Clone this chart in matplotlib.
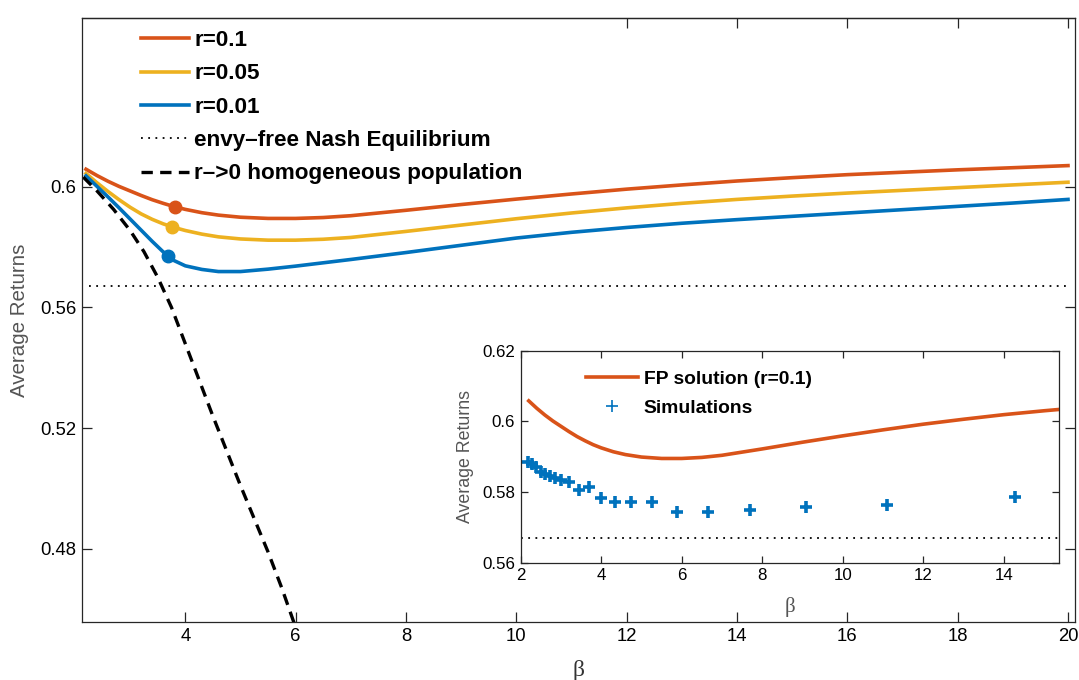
import matplotlib
matplotlib.use("Agg")
import matplotlib.pyplot as plt
from matplotlib.lines import Line2D

# ---- data -------------------------------------------------------------
beta = [2.2, 2.4, 2.6, 2.8, 3.0, 3.2, 3.4, 3.6, 3.8, 4.0, 4.3, 4.6, 5.0,
        5.5, 6.0, 6.5, 7.0, 8.0, 9.0, 10.0, 11.0, 12.0, 13.0, 14.0, 15.0,
        16.0, 17.0, 18.0, 19.0, 20.0]
ret_r01 = [0.6058, 0.6037, 0.6018, 0.6001, 0.5986, 0.5971, 0.5957, 0.5945,
           0.5934, 0.5925, 0.5914, 0.5906, 0.5899, 0.5895, 0.5895, 0.5898,
           0.5904, 0.5922, 0.5941, 0.5959, 0.5976, 0.5992, 0.6006, 0.6019,
           0.6030, 0.6040, 0.6048, 0.6056, 0.6063, 0.6070]
ret_r005 = [0.6044, 0.6013, 0.5984, 0.5957, 0.5932, 0.5910, 0.5892, 0.5877,
            0.5865, 0.5855, 0.5843, 0.5834, 0.5827, 0.5823, 0.5823, 0.5826,
            0.5832, 0.5852, 0.5873, 0.5894, 0.5913, 0.5930, 0.5945, 0.5958,
            0.5969, 0.5979, 0.5988, 0.5997, 0.6006, 0.6015]
ret_r001 = [0.6036, 0.6001, 0.5966, 0.5930, 0.5893, 0.5856, 0.5819, 0.5784,
            0.5755, 0.5738, 0.5726, 0.5719, 0.5719, 0.5727, 0.5737, 0.5748,
            0.5759, 0.5782, 0.5806, 0.5830, 0.5849, 0.5865, 0.5879, 0.5891,
            0.5902, 0.5913, 0.5924, 0.5935, 0.5946, 0.5958]

# highlighted operating points on each curve
beta_mark = [3.81, 3.75, 3.68]
ret_mark = [0.5933, 0.5868, 0.5772]

# r -> 0 limit for a homogeneous population
beta_homog = [2.15, 2.4, 2.7, 3.0, 3.25, 3.5, 3.75, 4.0, 4.25, 4.5, 4.75,
              5.0, 5.25, 5.5, 5.75, 6.0]
ret_homog = [0.6032, 0.5986, 0.5925, 0.5855, 0.5785, 0.5700, 0.5600, 0.5480,
             0.5360, 0.5240, 0.5125, 0.5010, 0.4900, 0.4790, 0.4670, 0.4540]

nash_level = 0.567

# agent-based simulations, r = 0.1
beta_sim = [2.19, 2.28, 2.38, 2.51, 2.61, 2.73, 2.86, 2.99, 3.21, 3.44, 3.70,
            4.00, 4.35, 4.75, 5.25, 5.87, 6.66, 7.69, 9.08, 11.10, 14.28]
ret_sim = [0.5885, 0.5878, 0.5870, 0.5858, 0.5850, 0.5846, 0.5841, 0.5834,
           0.5827, 0.5806, 0.5814, 0.5782, 0.5771, 0.5772, 0.5772, 0.5744,
           0.5744, 0.5749, 0.5759, 0.5764, 0.5787]

main_xticks = [4, 6, 8, 10, 12, 14, 16, 18, 20]
main_yticks = [0.48, 0.52, 0.56, 0.6]
inset_xticks = [2, 4, 6, 8, 10, 12, 14]
inset_yticks = [0.56, 0.58, 0.6, 0.62]

# ---- style ------------------------------------------------------------
C_ORANGE = "#D95319"
C_YELLOW = "#EDB120"
C_BLUE = "#0072BD"
C_AXIS = "#262626"
SANS = ["Liberation Sans", "DejaVu Sans"]
SERIF = ["Liberation Serif", "DejaVu Serif"]

plt.rcParams["font.family"] = SANS
plt.rcParams["axes.linewidth"] = 0.9

W, H = 1079, 680
fig = plt.figure(figsize=(W / 100, H / 100), dpi=100)


def px_rect(left, top, right, bottom):
    return [left / W, 1 - bottom / H, (right - left) / W, (bottom - top) / H]


def style_axes(a, size):
    for s in a.spines.values():
        s.set_color(C_AXIS)
    a.tick_params(direction="in", length=7, width=0.9, colors=C_AXIS,
                  labelcolor="black", labelsize=size, pad=4)


# ---- main axes --------------------------------------------------------
ax = fig.add_axes(px_rect(81.7, 17.7, 1075, 622))
ax.set_xlim(2.122, 20.127)
ax.set_ylim(0.4558, 0.656)

l1, = ax.plot(beta, ret_r01, color=C_ORANGE, lw=2.6, label="r=0.1")
l2, = ax.plot(beta, ret_r005, color=C_YELLOW, lw=2.6, label="r=0.05")
l3, = ax.plot(beta, ret_r001, color=C_BLUE, lw=2.6, label="r=0.01")
for bx, ry, c in zip(beta_mark, ret_mark, [C_ORANGE, C_YELLOW, C_BLUE]):
    ax.plot([bx], [ry], "o", color=c, ms=9, zorder=4)
l4, = ax.plot([2.25, 20.0], [nash_level, nash_level], color="black", lw=1.3,
              ls=(0, (1, 3.0)), label="envy\u2013free Nash Equilibrium")
l5, = ax.plot(beta_homog, ret_homog, color="black", lw=2.4, ls=(0, (3.4, 2.2)),
              label="r\u2013>0 homogeneous population")

ax.set_xticks(main_xticks)
ax.set_xticklabels([f"{v:g}" for v in main_xticks])
ax.set_yticks(main_yticks)
ax.set_yticklabels([f"{v:g}" for v in main_yticks])
style_axes(ax, 13.3)
ax.tick_params(right=True, top=False)

# top ticks only where the legend does not sit
top = ax.secondary_xaxis("top")
top.set_xticks([12, 14, 16, 18, 20])
top.tick_params(direction="in", length=7, width=0.9, colors=C_AXIS,
                labeltop=False)
top.spines["top"].set_color(C_AXIS)

ax.set_ylabel("Average Returns", fontsize=14.8, color="#555555", labelpad=8)
ax.set_xlabel("\u03b2", fontsize=17, family=SERIF, color="#333333",
              labelpad=11)

leg = ax.legend(handles=[l1, l2, l3, l4, l5], loc="upper left",
                bbox_to_anchor=(141 / W, 1 - 30 / H),
                bbox_transform=fig.transFigure, frameon=False,
                prop={"family": SANS, "weight": "bold", "size": 16.2},
                handlelength=2.15, handletextpad=0.22, labelspacing=0.55,
                borderpad=0, borderaxespad=0)

# ---- inset ------------------------------------------------------------
ins = fig.add_axes(px_rect(520.7, 350.7, 1059, 562.7))
ins.set_xlim(2, 15.37)
ins.set_ylim(0.56, 0.62)
f1, = ins.plot(beta, ret_r01, color=C_ORANGE, lw=2.6,
               label="FP solution (r=0.1)")
ins.plot(beta_sim, ret_sim, "+", color=C_BLUE, ms=9, mew=2.6)
f2 = Line2D([], [], ls="none", marker="+", color=C_BLUE, ms=8, mew=1.2,
            label="Simulations")
ins.plot([2.0, 15.37], [nash_level, nash_level], color="black", lw=1.3,
         ls=(0, (1, 3.0)))
ins.set_xticks(inset_xticks)
ins.set_xticklabels([f"{v:g}" for v in inset_xticks])
ins.set_yticks(inset_yticks)
ins.set_yticklabels([f"{v:g}" for v in inset_yticks])
style_axes(ins, 12.2)
ins.tick_params(right=True, top=True, length=5)
ins.set_ylabel("Average Returns", fontsize=12.8, color="#555555", labelpad=6)
ins.set_xlabel("\u03b2", fontsize=15, family=SERIF, color="#555555",
               labelpad=10)
ins.legend(handles=[f1, f2], loc="upper left",
           bbox_to_anchor=(586 / W, 1 - 370 / H),
           bbox_transform=fig.transFigure, frameon=False,
           prop={"family": SANS, "weight": "bold", "size": 13.9},
           handlelength=2.7, handletextpad=0.3, labelspacing=0.62,
           borderpad=0, borderaxespad=0, numpoints=1)

fig.savefig("out.png", dpi=100)
